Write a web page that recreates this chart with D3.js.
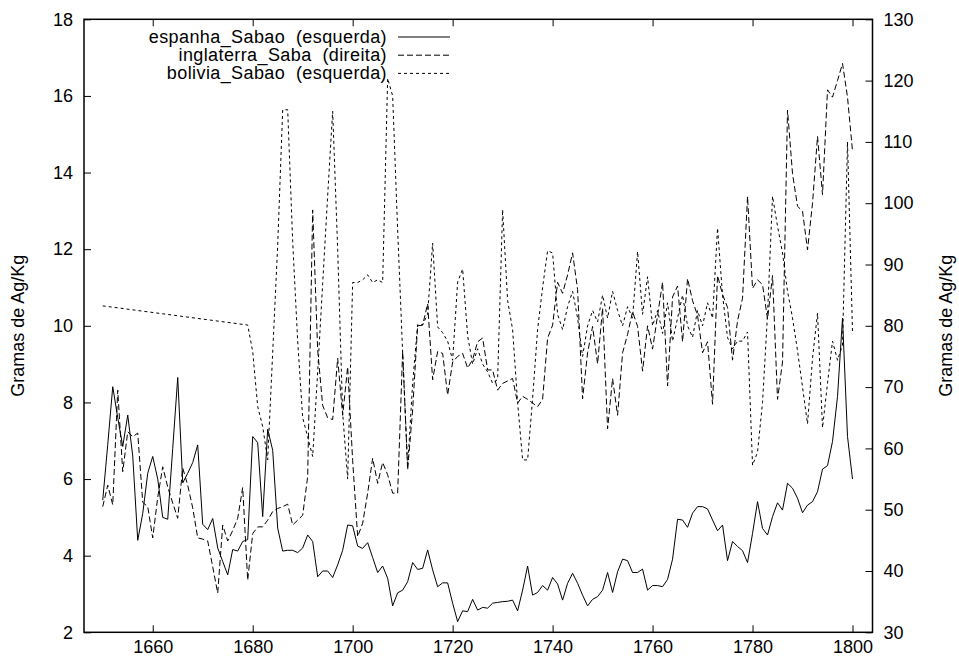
<!DOCTYPE html>
<html>
<head>
<meta charset="utf-8">
<script src="https://cdn.jsdelivr.net/npm/d3@7"></script>
<style>
  html, body { margin: 0; padding: 0; background: #fff; }
  svg text { font-family: "Liberation Sans", Arial, Helvetica, sans-serif; fill: #000; }
</style>
</head>
<body>
<svg id="chart" width="959" height="659"></svg>
<script>
// Annual soap prices, 1650-1800 (grams of silver per kg)
const years = d3.range(1650, 1801);

// Spain, left axis
const espanha = [
  5.45, 6.9, 8.41, 7.6, 6.85, 7.67, 6.6, 4.4, 5.1, 6.15,
  6.59, 6.0, 5.0, 4.95, 6.8, 8.65, 5.9, 6.15, 6.43, 6.89,
  4.82, 4.68, 4.97, 4.2, 3.85, 3.5, 4.16, 4.12, 4.37, 4.42,
  7.11, 6.95, 5.02, 7.3, 6.75, 4.72, 4.12, 4.14, 4.14, 4.08,
  4.2, 4.54, 4.37, 3.45, 3.6, 3.6, 3.43, 3.76, 4.14, 4.8,
  4.78, 4.25, 4.19, 4.34, 3.95, 3.56, 3.73, 3.41, 2.69, 3.03,
  3.1, 3.32, 3.82, 3.64, 3.67, 4.15, 3.63, 3.19, 3.29, 3.29,
  2.76, 2.28, 2.56, 2.54, 2.86, 2.58, 2.65, 2.63, 2.76, 2.78,
  2.8, 2.81, 2.84, 2.56, 3.1, 3.73, 2.97, 3.04, 3.22, 3.1,
  3.43, 3.26, 2.84, 3.28, 3.54, 3.28, 2.97, 2.69, 2.86, 2.93,
  3.1, 3.56, 3.04, 3.58, 3.91, 3.87, 3.56, 3.56, 3.65, 3.1,
  3.22, 3.22, 3.19, 3.38, 3.91, 4.95, 4.93, 4.74, 5.11, 5.28,
  5.28, 5.22, 4.93, 4.65, 4.8, 3.87, 4.37, 4.24, 4.13, 3.82,
  4.58, 5.41, 4.71, 4.54, 5.02, 5.38, 5.19, 5.89, 5.76, 5.5,
  5.12, 5.32, 5.41, 5.67, 6.26, 6.35, 6.98, 8.15, 10.2, 7.11,
  6.0
];

// England, right axis
const inglaterra = [
  50.5, 54.0, 50.8, 69.5, 56.2, 62.7, 61.9, 62.5, 51.2, 50.5,
  45.4, 52.0, 57.0, 53.7, 51.1, 48.6, 56.8, 54.0, 50.3, 45.4,
  45.2, 44.9, 40.7, 36.4, 47.5, 44.9, 46.6, 48.6, 53.6, 38.5,
  46.1, 47.2, 47.2, 48.3, 49.7, 50.2, 50.5, 50.9, 47.5, 48.3,
  49.1, 55.4, 98.9, 76.0, 67.0, 65.0, 64.7, 74.7, 65.4, 73.3,
  58.0, 45.6, 47.8, 52.7, 58.4, 54.3, 57.7, 55.7, 52.7, 52.7,
  75.8, 56.5, 66.3, 80.0, 80.1, 83.6, 71.2, 75.8, 75.5, 68.7,
  74.1, 75.0, 75.5, 73.1, 74.5, 77.4, 78.0, 72.8, 72.8, 69.5,
  70.6, 71.0, 71.4, 67.4, 68.5, 68.0, 67.4, 66.8, 68.0, 78.0,
  80.1, 87.1, 85.3, 88.3, 91.9, 85.9, 68.1, 75.6, 79.9, 73.8,
  82.9, 63.2, 71.4, 65.4, 75.6, 78.6, 82.3, 79.9, 72.6, 80.0,
  76.2, 81.7, 87.1, 70.2, 84.7, 86.5, 77.4, 87.7, 84.1, 81.7,
  75.6, 77.4, 67.2, 88.2, 85.1, 83.0, 74.4, 80.8, 84.5, 101.1,
  86.1, 87.5, 86.7, 81.1, 88.2, 68.0, 74.1, 115.2, 104.8, 99.5,
  98.7, 92.4, 100.0, 110.9, 101.4, 118.5, 117.3, 120.0, 122.8, 117.3,
  108.5
];

// Bolivia, left axis (no yearly values between 1651 and 1678)
const bolivia = [
  10.52, null, null, null, null, null, null, null, null, null,
  null, null, null, null, null, null, null, null, null, null,
  null, null, null, null, null, null, null, null, null, 10.02,
  9.33, 7.89, 7.37, 6.5, 9.3, 12.1, 15.64, 15.64, 12.2, 9.6,
  7.6, 7.1, 6.59, 8.8, 11.1, 13.4, 15.6, 12.0, 7.72, 6.0,
  11.13, 11.13, 11.2, 11.33, 11.13, 11.2, 11.13, 16.46, 16.0, 12.5,
  9.3, 6.31, 8.5, 10.03, 10.03, 10.3, 12.16, 9.97, 9.82, 9.6,
  9.1, 11.14, 11.48, 9.74, 9.0, 9.4, 9.0, 8.8, 8.5, 8.6,
  13.03, 10.66, 9.9, 8.0, 6.5, 6.5, 8.1, 9.9, 11.0, 11.96,
  11.9, 10.3, 9.9, 10.5, 10.9, 10.2, 9.2, 10.0, 10.4, 10.1,
  10.8, 10.2, 10.9, 10.4, 10.0, 10.5, 10.2, 11.94, 10.3, 11.28,
  10.0, 10.4, 9.8, 10.6, 9.6, 10.2, 10.8, 10.0, 9.7, 10.4,
  10.0, 10.6, 10.2, 12.55, 10.8, 9.69, 9.4, 9.6, 9.6, 9.84,
  6.36, 6.7, 8.0, 10.3, 13.38, 12.6, 11.9, 10.9, 10.2, 9.35,
  8.4, 7.44, 9.15, 10.33, 7.34, 8.5, 9.6, 9.1, 9.5, 14.8,
  9.84
];

const xTicks = [1660, 1680, 1700, 1720, 1740, 1760, 1780, 1800];
const leftTicks = [2, 4, 6, 8, 10, 12, 14, 16, 18];
const rightTicks = [30, 40, 50, 60, 70, 80, 90, 100, 110, 120, 130];
const seriesLabels = ["espanha_Sabao  (esquerda)", "inglaterra_Saba  (direita)", "bolivia_Sabao  (esquerda)"];
const axisTitle = "Gramas de Ag/Kg";

// ---- layout ----
const FONT = 18;
const TICK = 7;
const plot = { left: 84, right: 872.5, top: 19.3, bottom: 632.3 };

const svg = d3.select("#chart");

const x = d3.scaleLinear().domain([1646.25, 1804]).range([plot.left, plot.right]);
const yL = d3.scaleLinear().domain([2, 18]).range([plot.bottom, plot.top]);
const yR = d3.scaleLinear().domain([30, 130]).range([plot.bottom, plot.top]);

function styleAxis(g) {
  g.select(".domain").remove();
  g.selectAll(".tick line").attr("stroke", "#000").attr("stroke-width", 1);
  g.selectAll(".tick text")
    .attr("font-size", FONT)
    .attr("font-family", '"Liberation Sans", Arial, Helvetica, sans-serif')
    .attr("fill", "#000");
}

// bottom axis with labels, ticks pointing inward
svg.append("g")
  .attr("transform", `translate(0,${plot.bottom})`)
  .call(d3.axisBottom(x).tickValues(xTicks).tickFormat(d3.format("d"))
    .tickSizeInner(-TICK).tickSizeOuter(0).tickPadding(8))
  .call(styleAxis);

// mirrored top ticks
svg.append("g")
  .attr("transform", `translate(0,${plot.top})`)
  .call(d3.axisTop(x).tickValues(xTicks).tickFormat("")
    .tickSizeInner(-TICK).tickSizeOuter(0))
  .call(styleAxis);

// left axis
svg.append("g")
  .attr("transform", `translate(${plot.left},0)`)
  .call(d3.axisLeft(yL).tickValues(leftTicks).tickFormat(d3.format("d"))
    .tickSizeInner(-TICK).tickSizeOuter(0).tickPadding(11))
  .call(styleAxis);

// right axis
svg.append("g")
  .attr("transform", `translate(${plot.right},0)`)
  .call(d3.axisRight(yR).tickValues(rightTicks).tickFormat(d3.format("d"))
    .tickSizeInner(-TICK).tickSizeOuter(0).tickPadding(11))
  .call(styleAxis);

// frame
svg.append("rect")
  .attr("x", plot.left).attr("y", plot.top)
  .attr("width", plot.right - plot.left).attr("height", plot.bottom - plot.top)
  .attr("fill", "none").attr("stroke", "#000").attr("stroke-width", 1.5);

// axis titles
const midY = (plot.top + plot.bottom) / 2;
svg.append("text")
  .attr("transform", `translate(18,${midY}) rotate(-90)`)
  .attr("text-anchor", "middle").attr("dominant-baseline", "central")
  .attr("font-size", FONT).text(axisTitle);
svg.append("text")
  .attr("transform", `translate(946,${midY}) rotate(-90)`)
  .attr("text-anchor", "middle").attr("dominant-baseline", "central")
  .attr("font-size", FONT).text(axisTitle);

// series
const points = vals => years.map((yr, i) => ({ yr, v: vals[i] })).filter(d => d.v != null);
const lineLeft = d3.line().x(d => x(d.yr)).y(d => yL(d.v));
const lineRight = d3.line().x(d => x(d.yr)).y(d => yR(d.v));

const series = [
  { label: seriesLabels[0], d: lineLeft(points(espanha)), dash: null },
  { label: seriesLabels[1], d: lineRight(points(inglaterra)), dash: "6,3" },
  { label: seriesLabels[2], d: lineLeft(points(bolivia)), dash: "3,3" }
];

svg.append("g").selectAll("path").data(series).join("path")
  .attr("d", s => s.d)
  .attr("fill", "none")
  .attr("stroke", "#000")
  .attr("stroke-width", 1)
  .attr("stroke-dasharray", s => s.dash);

// key
const key = svg.append("g");
const keyRow = 18.2, keyTop = 37, keyTextEnd = 387, keyLine = [398, 450];
series.forEach((s, i) => {
  const yy = keyTop + i * keyRow;
  key.append("text")
    .attr("x", keyTextEnd).attr("y", yy)
    .attr("text-anchor", "end").attr("dominant-baseline", "central")
    .attr("font-size", FONT)
    .attr("letter-spacing", 0.4)
    .style("white-space", "pre")
    .text(s.label);
  key.append("line")
    .attr("x1", keyLine[0]).attr("x2", keyLine[1])
    .attr("y1", yy).attr("y2", yy)
    .attr("stroke", "#000").attr("stroke-width", 1)
    .attr("stroke-dasharray", s.dash);
});
</script>
</body>
</html>
